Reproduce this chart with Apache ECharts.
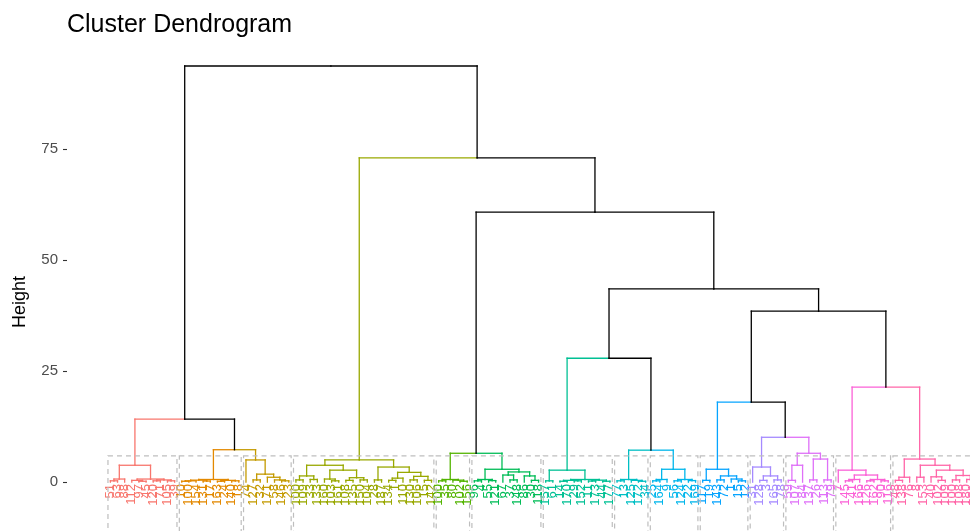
<!DOCTYPE html>
<html><head><meta charset="utf-8">
<script src="https://cdn.jsdelivr.net/npm/echarts@6/dist/echarts.min.js"></script>
<style>html,body{margin:0;padding:0;background:#fff}#c{width:970px;height:531px}</style>
</head><body><div id="c"></div><script>
// ---- data: each cluster is a nested tree [height, left, right]; leaves are labels ----
const cluster1 = [3.8, [0.7, [0.3, 51, 63], 88], [0.7, [0.4, 112, [0.2, 97, 45]], [0.5, [0.3, 120, 71], [0.3, 105, 39]]]];
const cluster2 = [0.6, [0.45, [0.3, [0.2, 10, 100], 154], [0.25, 131, 17]], [0.4, [0.2, 163, 24], [0.3, 140, 18]]];
const cluster3 = [5.0, 74, [1.8, [0.5, 127, 32], [1.1, 171, [0.5, 58, [0.3, 146, 23]]]]];
const cluster4 = [5.0,
  [3.8, [1.4, [0.5, 100, 109], [0.6, 33, 133]], [2.7, [0.7, 160, [0.3, 103, 161]], [1.0, [0.4, 108, 135], [0.5, 150, 104]]]],
  [3.4, [0.5, 28, 187], [2.2, [0.9, [0.4, 134, 1], 110], [1.3, [0.5, 130, 106], [0.4, 15, 142]]]]];
const cluster5 = [0.6, [0.3, 100, 35], [0.45, 80, [0.2, 102, 156]]];
const cluster6 = [2.9, [0.6, [0.3, 96, 4], [0.35, 55, 121]], [2.3, [1.6, 67, [0.5, 37, 148]], [1.4, 86, [0.4, 30, 118]]]];
const cluster7 = [2.7, [0.3, 157, 61], [0.6, [0.4, [0.2, 14, 170], [0.3, 29, 152]], [0.45, [0.25, 11, 173], [0.2, 44, 177]]]];
const cluster8 = [0.6, [0.3, 77, 13], [0.4, 125, [0.2, 172, 34]]];
const cluster9 = [2.9, [0.6, [0.3, 25, 164], 9], [0.6, [0.3, 56, 124], [0.35, 22, 169]]];
const cluster10 = [2.9, [0.4, 117, 19], [1.4, [0.5, 143, 72], [0.7, 1, [0.3, 15, 12]]]];
const cluster11 = [3.4, 31, [1.4, [0.4, 128, 3], [0.5, 165, 78]]];
const cluster12 = [6.5, [3.8, [0.4, 59, 107], 84], [5.2, [0.5, 137, 26], [0.5, 113, 79]]];
const cluster13 = [2.7, 7, [1.6, [0.6, [0.3, 145, 41], 166], [0.6, [0.3, 126, 162], [0.3, 90, 116]]]];
const cluster14 = [5.2, [1.1, [0.4, 48, 138], 76], [3.8, [1.1, 8, 153], [2.7, [1.2, 40, [0.4, 102, 109]], [1.5, [0.5, 100, 108], [0.6, 180, 101]]]]];
// merges above the cut
const upperTree = [93.7,
  [14.2, 'C1', [7.3, 'C2', 'C3']],
  [73.0, 'C4',
    [60.8, [6.5, 'C5', 'C6'],
      [43.5, [27.9, 'C7', [7.2, 'C8', 'C9']],
        [38.5, [18.0, 'C10', [10.1, 'C11', 'C12']], [21.4, 'C13', 'C14']]]]]];
const clusterColors = ["#F8766D","#E38900","#C49A00","#99A800","#53B400","#00BC56","#00C094","#00BFC4","#00B6EB","#06A4FF","#A58AFF","#DF70F8","#FB61D7","#FF66A8"];
const yTicks = [0, 25, 50, 75];
const rectTop = 5.9;
const titleText = 'Cluster Dendrogram';
const yName = 'Height';

// ---- build segments from the trees ----
const clusters = [cluster1,cluster2,cluster3,cluster4,cluster5,cluster6,cluster7,cluster8,cluster9,cluster10,cluster11,cluster12,cluster13,cluster14];
let leafIndex = 0;
const leaves = [], segs = [], rects = [];
function pushEdge(px, ph, child, ci) {
  segs.push([px, ph, child.x, ph, ci]);
  segs.push([child.x, ph, child.x, child.h, ci]);
}
function layoutCluster(node, ci) {
  if (!Array.isArray(node)) { const x = leafIndex++; leaves.push([x, ci, String(node)]); return {x: x, h: 0}; }
  const a = layoutCluster(node[1], ci), b = layoutCluster(node[2], ci);
  const x = (a.x + b.x) / 2;
  pushEdge(x, node[0], a, ci); pushEdge(x, node[0], b, ci);
  return {x: x, h: node[0]};
}
function layoutUpper(node) {
  if (typeof node === 'string') {
    const ci = +node.slice(1) - 1, first = leafIndex;
    const r = layoutCluster(clusters[ci], ci);
    rects.push([first - 0.34, leafIndex - 1 + 0.33, ci]);
    return {x: r.x, h: r.h, ci: ci};
  }
  const a = layoutUpper(node[1]), b = layoutUpper(node[2]);
  const x = (a.x + b.x) / 2;
  pushEdge(x, node[0], a, a.ci); pushEdge(x, node[0], b, b.ci);
  return {x: x, h: node[0], ci: -1};
}
layoutUpper(upperTree);

const chart = echarts.init(document.getElementById('c'), null, {renderer: 'canvas'});
chart.setOption({
  animation: false,
  backgroundColor: '#fff',
  title: {text: titleText, left: 62, top: 8, textStyle: {fontFamily: 'Liberation Sans', fontSize: 25, fontWeight: 'normal', color: '#000'}},
  grid: {left: 67, right: 0, top: 38, bottom: 0},
  xAxis: {type: 'value', min: -6.08, max: 120.46, show: false},
  yAxis: {type: 'value', min: -11, max: 100,
    axisLine: {show: false, onZero: false}, splitLine: {show: false},
    axisTick: {show: true, customValues: yTicks, length: 4, lineStyle: {color: '#333', width: 1.1}},
    axisLabel: {customValues: yTicks, color: '#4D4D4D', fontSize: 15, fontFamily: 'Liberation Sans', margin: 9}},
  graphic: [{type: 'text', x: 20, y: 302, rotation: Math.PI / 2,
    style: {text: yName, fontFamily: 'Liberation Sans', fontSize: 18, fill: '#000', align: 'center', verticalAlign: 'middle'}}],
  series: [
    {type: 'custom', clip: true, data: segs, encode: {x: [0, 2], y: [1, 3]},
      renderItem: function (params, api) {
        const p1 = api.coord([api.value(0), api.value(1)]);
        const p2 = api.coord([api.value(2), api.value(3)]);
        const ci = api.value(4);
        return {type: 'line', shape: {x1: p1[0], y1: p1[1], x2: p2[0], y2: p2[1]},
          style: {stroke: ci < 0 ? '#000' : clusterColors[ci], lineWidth: 1.3, lineCap: 'square'}};
      }},
    {type: 'custom', clip: true, data: leaves, encode: {x: 0, y: 1},
      renderItem: function (params, api) {
        const p = api.coord([api.value(0), 0]);
        const d = leaves[params.dataIndex];
        return {type: 'text', x: p[0], y: p[1] + 2, rotation: Math.PI / 2,
          style: {text: d[2], fill: clusterColors[d[1]], fontSize: 13, fontFamily: 'Liberation Sans', align: 'right', verticalAlign: 'middle'}};
      }},
    {type: 'custom', clip: true, data: rects, encode: {x: [0, 1]},
      renderItem: function (params, api) {
        const a = api.coord([api.value(0), rectTop]);
        const b = api.coord([api.value(1), -12]);
        return {type: 'rect', shape: {x: a[0], y: a[1], width: b[0] - a[0], height: b[1] - a[1]},
          style: {fill: 'none', stroke: '#BEBEBE', lineWidth: 1.2, lineDash: [5, 4]}};
      }}
  ]
});
</script></body></html>
